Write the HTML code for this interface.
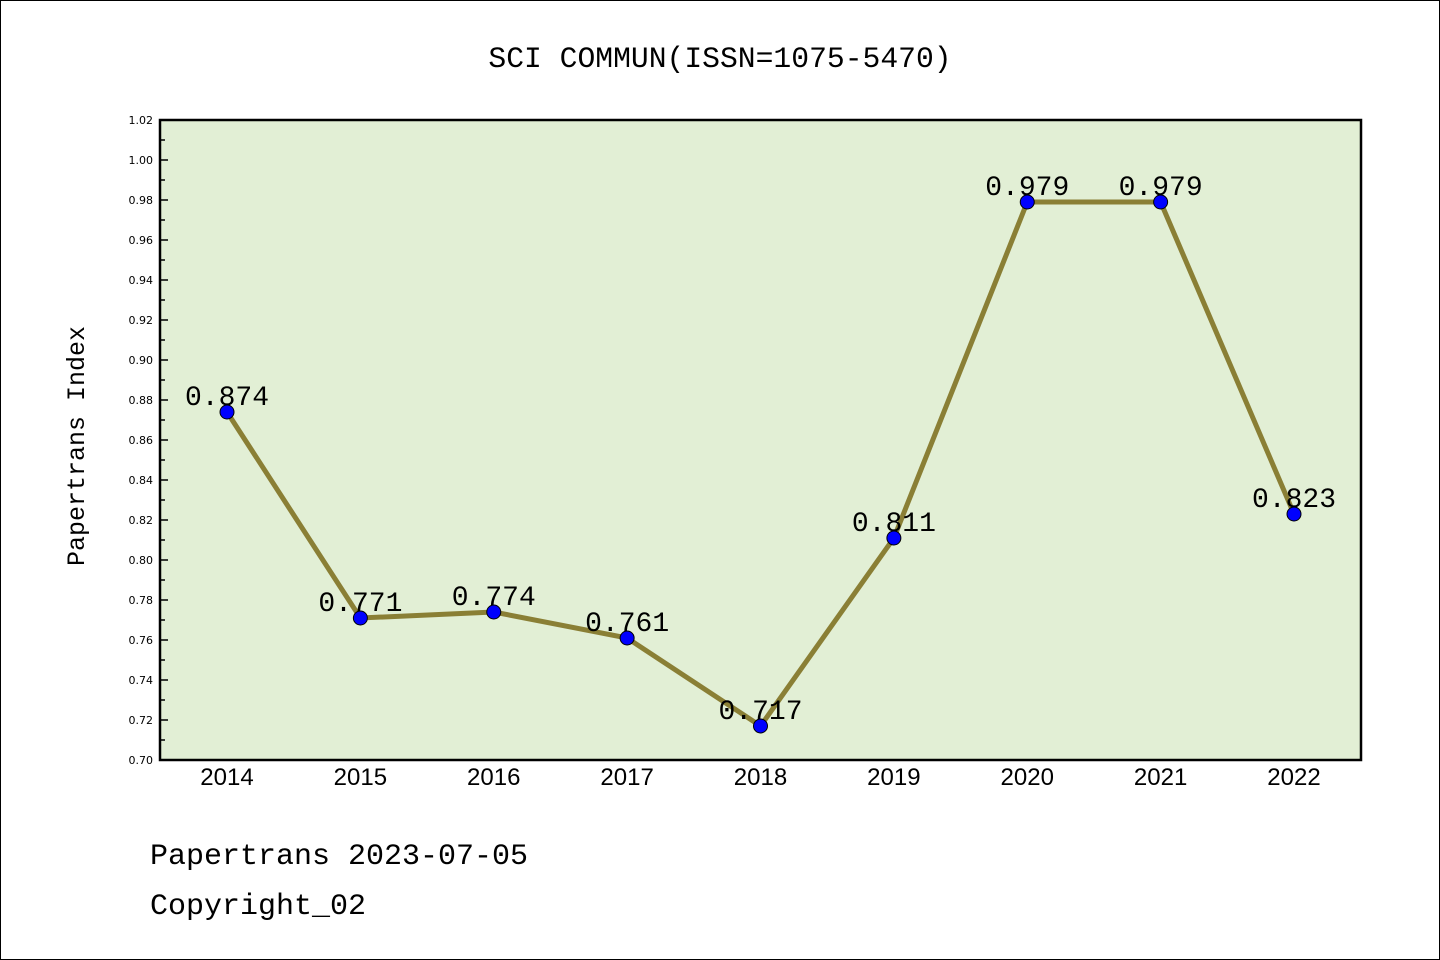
<!DOCTYPE html>
<html><head><meta charset="utf-8"><style>
html,body{margin:0;padding:0;background:#fff}
svg{display:block}
</style></head><body>
<svg id="chart" width="1440" height="960" viewBox="0 0 1440 960" xmlns="http://www.w3.org/2000/svg">
<rect x="0.5" y="0.5" width="1439" height="959" fill="#fff" stroke="#000" stroke-width="1"/>
<text x="720" y="67" text-anchor="middle" font-family="Liberation Mono, monospace" font-size="29.7">SCI COMMUN(ISSN=1075-5470)</text>
<rect x="160" y="120" width="1201" height="640" fill="#e2efd5"/>
<g id="yaxis"></g>
<g id="xaxis"></g>
<g id="series"></g>
<rect x="160" y="120" width="1201" height="640" fill="none" stroke="#000" stroke-width="2.5"/>
<text transform="translate(84,446) rotate(-90)" text-anchor="middle" font-family="Liberation Mono, monospace" font-size="25">Papertrans Index</text>
<text x="150" y="864" font-family="Liberation Mono, monospace" font-size="30">Papertrans 2023-07-05</text>
<text x="150" y="914" font-family="Liberation Mono, monospace" font-size="30">Copyright_02</text>
</svg>
<script>
const years = ["2014","2015","2016","2017","2018","2019","2020","2021","2022"];
const values = [0.874,0.771,0.774,0.761,0.717,0.811,0.979,0.979,0.823];
const valueLabels = ["0.874","0.771","0.774","0.761","0.717","0.811","0.979","0.979","0.823"];
const yTicks = [0.70,0.72,0.74,0.76,0.78,0.80,0.82,0.84,0.86,0.88,0.90,0.92,0.94,0.96,0.98,1.00,1.02];
const NS="http://www.w3.org/2000/svg";
const Y0=0.70,Y1=1.02,plotTop=120,plotBot=760;
function yS(v){return plotBot-(v-Y0)/(Y1-Y0)*(plotBot-plotTop);}
function xS(i){return 227+i*(1294-227)/(years.length-1);}
function mk(tag,attrs,parent,txt){const e=document.createElementNS(NS,tag);for(const k in attrs)e.setAttribute(k,attrs[k]);if(txt!==undefined)e.textContent=txt;parent.appendChild(e);return e;}
const ya=document.getElementById('yaxis');
yTicks.forEach((t,i)=>{
  const y=yS(t);
  const tk=mk('line',{x1:160,x2:168,y1:y,y2:y,stroke:'#000','stroke-width':1.5},ya);
  
  
  const lb=mk('text',{x:153,y:y+4,'text-anchor':'end','font-family':'DejaVu Sans, sans-serif','font-size':11},ya,t.toFixed(2));
  
  
  if(i<yTicks.length-1){
    const ym=yS(t+0.01);
    const mt=mk('line',{x1:160,x2:165,y1:ym,y2:ym,stroke:'#000','stroke-width':1.5},ya);
    
    
  }
});
const xa=document.getElementById('xaxis');
years.forEach((yr,i)=>{
  const lb=mk('text',{x:xS(i),y:785,'text-anchor':'middle','font-family':'Liberation Sans, sans-serif','font-size':24},xa,yr);
  
  
});
const s=document.getElementById('series');
const pl=mk('polyline',{points:values.map((v,i)=>xS(i)+','+yS(v)).join(' '),fill:'none',stroke:'#8a7f35','stroke-width':5},s);


values.forEach((v,i)=>{
  const c=mk('circle',{cx:xS(i),cy:yS(v),r:7,fill:'#0000ff',stroke:'#000','stroke-width':1},s);
  
  
  const t=mk('text',{x:xS(i),y:yS(v)-7,'text-anchor':'middle','font-family':'Liberation Mono, monospace','font-size':28},s,valueLabels[i]);
  
  
});
</script>
</body></html>
